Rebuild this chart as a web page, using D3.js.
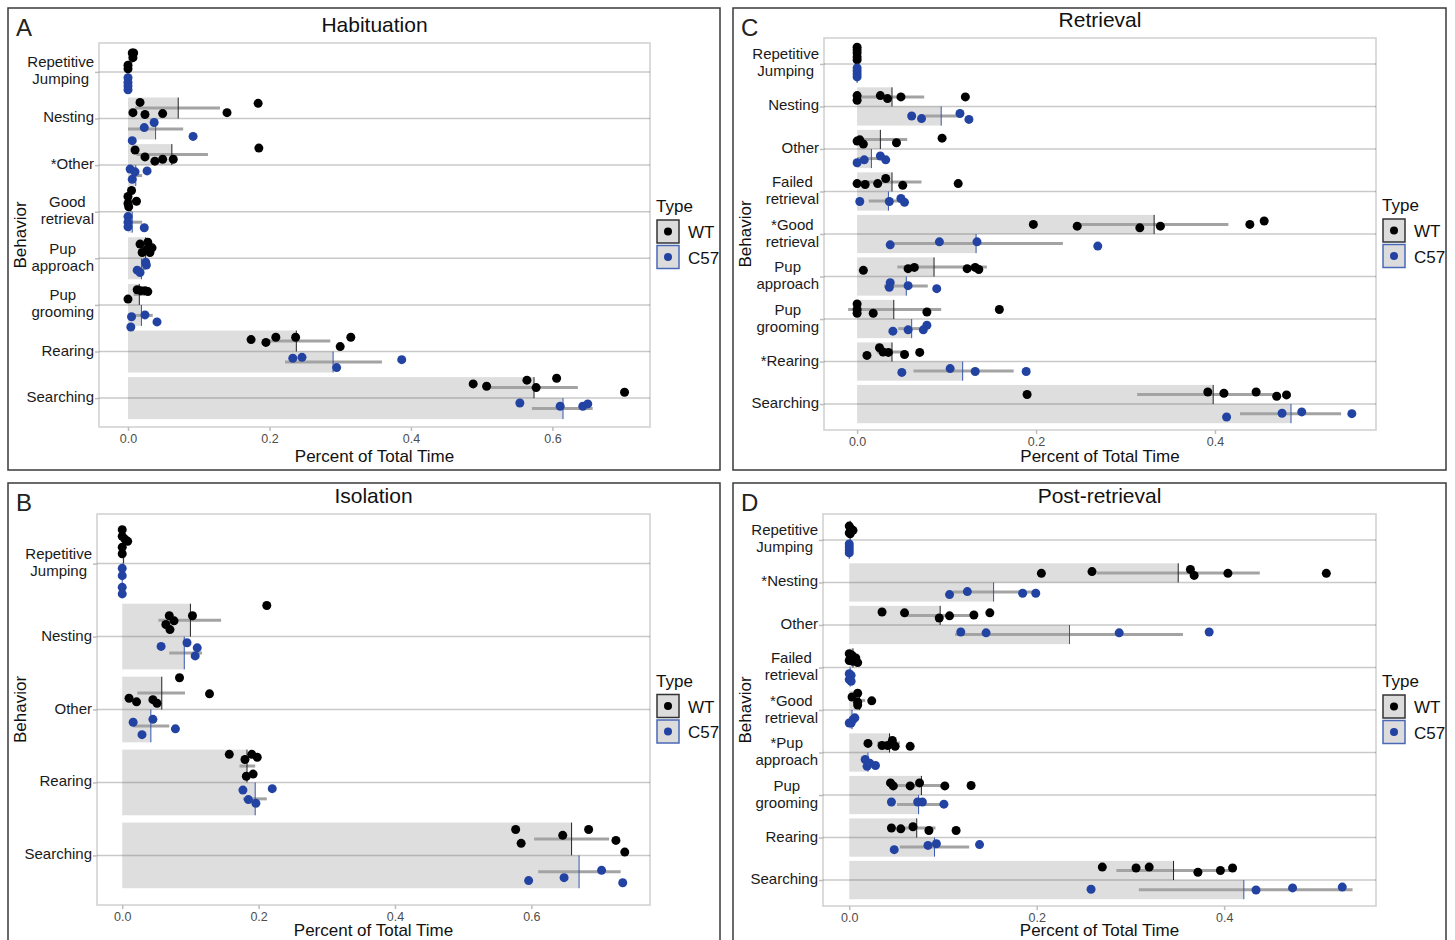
<!DOCTYPE html>
<html>
<head>
<meta charset="utf-8">
<script src="https://cdn.jsdelivr.net/npm/d3@7"></script>
<style>
  body { margin: 0; background: #fff; }
  svg { display: block; }
  text { font-family: "Liberation Sans", Arial, sans-serif; }
</style>
</head>
<body>
<svg id="chart" width="1455" height="940"></svg>
<script>
// ---- Habituation (A) ----
const habCats = ["Repetitive\nJumping", "Nesting", "*Other", "Good\nretrieval", "Pup\napproach", "Pup\ngrooming", "Rearing", "Searching"];
const habWTMean = [0.004, 0.071, 0.062, 0.004, 0.025, 0.016, 0.238, 0.574];
const habC57Mean = [0, 0.039, 0.011, 0.006, 0.019, 0.019, 0.290, 0.615];
const habWTErr = [[0.001, 0.007], [0.010, 0.130], [0.012, 0.113], [0, 0.009], [0.019, 0.031], [0.008, 0.024], [0.200, 0.286], [0.512, 0.636]];
const habC57Err = [[0, 0], [0, 0.078], [0.004, 0.020], [0, 0.020], [0.013, 0.025], [0.007, 0.035], [0.222, 0.359], [0.571, 0.657]];
// points: [value, jitter in category units]
const habWTPts = [
  [[0.006, -0.18], [0.008, -0.18], [0.007, -0.08], [0, 0.08], [0, 0.16]],
  [[0.017, -0.12], [0.007, 0.10], [0.024, 0.14], [0.049, 0.12], [0.140, 0.10], [0.184, -0.10]],
  [[0.010, -0.10], [0.024, 0.05], [0.038, 0.14], [0.049, 0.10], [0.064, 0.10], [0.185, -0.14]],
  [[0.005, -0.23], [0, -0.10], [0, 0.05], [0.012, 0], [0.001, 0.12]],
  [[0.017, -0.08], [0.028, -0.12], [0.020, 0.10], [0.031, 0.10], [0.027, 0.03], [0.034, 0]],
  [[0.013, -0.10], [0.018, -0.08], [0.024, -0.08], [0.028, -0.06], [0, 0.10]],
  [[0.174, -0.03], [0.195, 0.03], [0.209, -0.08], [0.237, -0.08], [0.300, 0.12], [0.315, -0.08]],
  [[0.488, -0.08], [0.507, -0.03], [0.564, -0.16], [0.577, 0], [0.606, -0.20], [0.702, 0.10]]
];
const habC57Pts = [
  [[0, -0.10], [0, 0], [0, 0.08], [0, 0.16]],
  [[0.037, -0.14], [0.023, -0.03], [0.006, 0.25], [0.092, 0.16]],
  [[0.003, -0.14], [0.010, -0.08], [0.027, -0.10], [0.006, 0.08]],
  [[0, -0.12], [0, 0], [0, 0.10], [0.023, 0.12]],
  [[0.025, -0.14], [0.026, -0.08], [0.013, 0.03], [0.017, 0.08]],
  [[0.005, 0.03], [0.024, -0.01], [0.041, 0.14], [0.004, 0.25]],
  [[0.233, -0.08], [0.246, -0.10], [0.295, 0.12], [0.387, -0.05]],
  [[0.554, -0.12], [0.611, -0.05], [0.643, -0.05], [0.650, -0.10]]
];

// ---- Isolation (B) ----
const isoCats = ["Repetitive\nJumping", "Nesting", "Other", "Rearing", "Searching"];
const isoWTMean = [0.002, 0.100, 0.058, 0.183, 0.659];
const isoC57Mean = [0, 0.091, 0.042, 0.195, 0.670];
const isoWTErr = [[0, 0.004], [0.053, 0.145], [0.022, 0.092], [0.172, 0.195], [0.604, 0.714]];
const isoC57Err = [[0, 0], [0.069, 0.117], [0.016, 0.069], [0.177, 0.212], [0.610, 0.731]];
const isoWTPts = [
  [[0, -0.24], [0, -0.15], [0.008, -0.08], [0, 0], [0, 0.09], [0.004, -0.11]],
  [[0.212, -0.20], [0.069, -0.06], [0.103, -0.06], [0.076, 0.01], [0.064, 0.06], [0.070, 0.13]],
  [[0.084, -0.21], [0.128, 0.01], [0.010, 0.07], [0.021, 0.12], [0.045, 0.09], [0.051, 0.14]],
  [[0.157, -0.16], [0.180, -0.09], [0.190, -0.16], [0.198, -0.12], [0.182, 0.14], [0.192, 0.11]],
  [[0.577, -0.13], [0.585, 0.06], [0.646, -0.05], [0.684, -0.13], [0.724, 0.02], [0.737, 0.18]]
];
const isoC57Pts = [
  [[0, -0.16], [0, -0.06], [0, 0.10], [0, 0.19]],
  [[0.057, -0.09], [0.095, -0.14], [0.110, -0.07], [0.107, 0.04]],
  [[0.016, -0.05], [0.045, -0.09], [0.078, 0.04], [0.029, 0.12]],
  [[0.177, -0.12], [0.220, -0.14], [0.185, 0.01], [0.196, 0.06]],
  [[0.596, 0.12], [0.648, 0.08], [0.703, -0.02], [0.734, 0.15]]
];

// ---- Retrieval (C) ----
const retCats = ["Repetitive\nJumping", "Nesting", "Other", "Failed\nretrieval", "*Good\nretrieval", "Pup\napproach", "Pup\ngrooming", "*Rearing", "Searching"];
const retWTMean = [0, 0.039, 0.026, 0.039, 0.332, 0.086, 0.041, 0.039, 0.398];
const retC57Mean = [0, 0.094, 0.016, 0.035, 0.133, 0.055, 0.061, 0.118, 0.485];
const retWTErr = [[0, 0], [0.003, 0.075], [-0.003, 0.056], [0.004, 0.072], [0.249, 0.415], [0.045, 0.145], [-0.010, 0.094], [0.022, 0.051], [0.313, 0.473]];
const retC57Err = [[0, 0], [0.072, 0.115], [0, 0.032], [0.013, 0.048], [0.037, 0.230], [0.030, 0.079], [0.046, 0.078], [0.063, 0.175], [0.428, 0.541]];
const retWTPts = [
  [[0, -0.17], [0, -0.10], [0, -0.03], [0, 0.06], [0, 0.13]],
  [[0, -0.03], [0, 0.08], [0.026, -0.03], [0.034, 0.04], [0.049, 0], [0.121, 0]],
  [[0, 0.04], [0.003, 0.01], [0.007, 0.11], [0.044, 0.08], [0.095, -0.03]],
  [[0, 0.04], [0.009, 0.06], [0.023, 0.04], [0.032, -0.08], [0.051, 0.08], [0.113, 0.04]],
  [[0.197, 0], [0.246, 0.04], [0.316, 0.08], [0.339, 0.04], [0.439, 0], [0.455, -0.08]],
  [[0.007, 0.08], [0.057, 0.04], [0.064, 0.01], [0.123, 0.04], [0.132, 0.01], [0.136, 0.06]],
  [[0, -0.13], [0, 0], [0, 0.09], [0.018, 0.09], [0.078, 0.06], [0.159, 0]],
  [[0.011, 0.08], [0.025, -0.10], [0.029, 0], [0.035, 0.01], [0.053, 0.06], [0.070, 0.01]],
  [[0.190, 0], [0.392, -0.06], [0.410, -0.03], [0.446, -0.06], [0.469, 0.04], [0.480, 0.01]]
];
const retC57Pts = [
  [[0, -0.13], [0, -0.06], [0, 0.01], [0, 0.08]],
  [[0.061, 0], [0.072, 0.06], [0.115, -0.06], [0.125, 0.08]],
  [[0, 0.10], [0.008, 0.03], [0.026, -0.06], [0.032, 0.03]],
  [[0.003, 0.01], [0.036, 0.01], [0.049, -0.06], [0.053, 0.03]],
  [[0.037, 0.03], [0.092, -0.04], [0.134, -0.04], [0.269, 0.06]],
  [[0.037, -0.08], [0.036, 0.03], [0.057, -0.01], [0.089, 0.06]],
  [[0.040, 0.06], [0.057, 0.03], [0.074, 0.03], [0.078, -0.08]],
  [[0.050, 0.03], [0.104, -0.06], [0.132, 0.01], [0.189, 0.01]],
  [[0.413, 0.08], [0.475, -0.01], [0.497, -0.04], [0.553, 0]]
];

// ---- Post-retrieval (D) ----
const postCats = ["Repetitive\nJumping", "*Nesting", "Other", "Failed\nretrieval", "*Good\nretrieval", "*Pup\napproach", "Pup\ngrooming", "Rearing", "Searching"];
const postWTMean = [0.001, 0.351, 0.097, 0.004, 0.011, 0.043, 0.077, 0.072, 0.346];
const postC57Mean = [0, 0.154, 0.235, 0.001, 0.003, 0.020, 0.074, 0.091, 0.421];
const postWTErr = [[0, 0.003], [0.264, 0.438], [0.060, 0.134], [0.001, 0.007], [0.005, 0.017], [0.030, 0.054], [0.051, 0.100], [0.057, 0.092], [0.285, 0.407]];
const postC57Err = [[0, 0], [0.110, 0.198], [0.113, 0.356], [0, 0.002], [0.001, 0.005], [0.016, 0.024], [0.051, 0.097], [0.054, 0.128], [0.309, 0.537]];
const postWTPts = [
  [[0, -0.10], [0.002, -0.03], [0.004, 0], [0, 0.06], [0.001, 0.08]],
  [[0.205, 0.01], [0.259, -0.03], [0.364, -0.08], [0.368, 0.06], [0.404, 0.01], [0.509, 0.01]],
  [[0.035, -0.08], [0.059, -0.06], [0.096, 0.06], [0.107, 0.01], [0.133, -0.01], [0.150, -0.06]],
  [[0, -0.10], [0.003, -0.06], [0.007, 0], [0, 0.06], [0.004, 0.08], [0.009, 0.11]],
  [[0.003, -0.08], [0.009, -0.17], [0.009, 0.04], [0.009, 0.11], [0.024, 0.01]],
  [[0.020, 0.01], [0.035, 0.06], [0.046, -0.06], [0.049, 0.08], [0.041, 0.06], [0.065, 0.08]],
  [[0.044, -0.06], [0.047, 0.01], [0.065, 0.01], [0.075, -0.06], [0.102, 0.01], [0.130, 0]],
  [[0.045, 0], [0.055, 0.02], [0.068, -0.03], [0.085, 0.06], [0.114, 0.06]],
  [[0.270, -0.08], [0.306, -0.06], [0.320, -0.08], [0.372, 0.04], [0.396, 0], [0.409, -0.06]]
];
const postC57Pts = [
  [[0, -0.13], [0, -0.06], [0, 0.01], [0, 0.08]],
  [[0.107, 0.06], [0.126, -0.01], [0.185, 0.03], [0.199, 0.03]],
  [[0.119, -0.06], [0.146, -0.04], [0.288, -0.04], [0.384, -0.06]],
  [[0, -0.08], [0.002, -0.04], [0, 0.06], [0.002, 0.10]],
  [[0, 0.08], [0.004, 0], [0.006, -0.04], [0.002, 0.08]],
  [[0.017, -0.06], [0.019, 0.10], [0.028, 0.08], [0.022, 0.03]],
  [[0.045, -0.06], [0.073, -0.06], [0.078, -0.06], [0.101, -0.01]],
  [[0.048, 0.06], [0.084, -0.04], [0.093, -0.08], [0.139, -0.06]],
  [[0.258, -0.01], [0.434, 0.01], [0.473, -0.04], [0.526, -0.06]]
];

const typeLabels = ["WT", "C57"];
const typeColors = ["#000000", "#2343a3"];
const meanColors = ["#222222", "#3556b0"];
const keyStroke = ["#333333", "#4a68b8"];

// layout of each panel (pixel boxes), data hooked in
const panels = [
  { letter: "A", title: "Habituation", box: [8, 8, 720, 470], plot: [99, 43, 650, 427], xDomain: [-0.041, 0.738], pad: 0.62, xTitleY: 462,
    ticks: [0, 0.2, 0.4, 0.6], cats: habCats, mean: [habWTMean, habC57Mean], err: [habWTErr, habC57Err], pts: [habWTPts, habC57Pts] },
  { letter: "B", title: "Isolation", box: [8, 483, 720, 948], plot: [97, 514, 650, 905], xDomain: [-0.037, 0.774], pad: 0.68, xTitleY: 936,
    ticks: [0, 0.2, 0.4, 0.6], cats: isoCats, mean: [isoWTMean, isoC57Mean], err: [isoWTErr, isoC57Err], pts: [isoWTPts, isoC57Pts] },
  { letter: "C", title: "Retrieval", box: [733, 8, 1446, 470], plot: [824, 38, 1376, 430], xDomain: [-0.037, 0.580], pad: 0.61, xTitleY: 462,
    ticks: [0, 0.2, 0.4], cats: retCats, mean: [retWTMean, retC57Mean], err: [retWTErr, retC57Err], pts: [retWTPts, retC57Pts] },
  { letter: "D", title: "Post-retrieval", box: [733, 483, 1446, 948], plot: [823, 514, 1376, 906], xDomain: [-0.028, 0.562], pad: 0.61, xTitleY: 936,
    ticks: [0, 0.2, 0.4], cats: postCats, mean: [postWTMean, postC57Mean], err: [postWTErr, postC57Err], pts: [postWTPts, postC57Pts] }
];

const svg = d3.select("#chart");
panels.forEach(drawPanel);

function drawPanel(p) {
  const g = svg.append("g");
  const [pl, pt, pr, pb] = p.plot;
  const n = p.cats.length;
  const half = 0.45, off = 0.225;

  g.append("rect")
      .attr("x", p.box[0]).attr("y", p.box[1])
      .attr("width", p.box[2] - p.box[0]).attr("height", p.box[3] - p.box[1])
      .attr("fill", "none").attr("stroke", "#3a3a3a").attr("stroke-width", 1.5);

  const x = d3.scaleLinear().domain(p.xDomain).range([pl, pr]);
  const y = d3.scaleLinear().domain([-p.pad, n - 1 + p.pad]).range([pt, pb]);

  // plot panel border
  g.append("rect")
      .attr("x", pl).attr("y", pt).attr("width", pr - pl).attr("height", pb - pt)
      .attr("fill", "#fff").attr("stroke", "#cfcfcf").attr("stroke-width", 1.5);

  // bars (WT above the tick, C57 below)
  [0, 1].forEach(k => {
    g.append("g").selectAll("rect")
      .data(p.mean[k])
      .join("rect")
        .attr("x", d => x(Math.min(0, d)))
        .attr("width", d => Math.abs(x(d) - x(0)))
        .attr("y", (d, i) => k === 0 ? y(i - half) : y(i))
        .attr("height", y(half) - y(0))
        .attr("fill", "#dedede");
  });

  // y axis ticks + horizontal reference lines
  const yAxis = d3.axisLeft(y).tickValues(d3.range(n)).tickSize(4).tickFormat("");
  const ya = g.append("g").attr("transform", `translate(${pl},0)`).call(yAxis);
  ya.select(".domain").remove();
  ya.selectAll(".tick line").attr("stroke", "#bdbdbd").attr("stroke-width", 1.5);

  g.append("g").selectAll("line")
    .data(p.cats)
    .join("line")
      .attr("x1", pl).attr("x2", pr)
      .attr("y1", (d, i) => y(i)).attr("y2", (d, i) => y(i))
      .attr("stroke", "rgba(0,0,0,0.21)").attr("stroke-width", 1.5);

  // error bars
  [0, 1].forEach(k => {
    const s = k === 0 ? -1 : 1;
    g.append("g").selectAll("line")
      .data(p.err[k])
      .join("line")
        .attr("x1", d => x(d[0])).attr("x2", d => x(d[1]))
        .attr("y1", (d, i) => y(i + s * off)).attr("y2", (d, i) => y(i + s * off))
        .attr("stroke", "#a3a3a3").attr("stroke-width", 3);
  });

  // mean lines
  [0, 1].forEach(k => {
    g.append("g").selectAll("line")
      .data(p.mean[k])
      .join("line")
        .attr("x1", d => x(d)).attr("x2", d => x(d))
        .attr("y1", (d, i) => k === 0 ? y(i - half) : y(i))
        .attr("y2", (d, i) => k === 0 ? y(i) : y(i + half))
        .attr("stroke", meanColors[k]).attr("stroke-width", 1);
  });

  // points
  [0, 1].forEach(k => {
    const s = k === 0 ? -1 : 1;
    const flat = [];
    p.pts[k].forEach((arr, i) => arr.forEach(d => flat.push({ i, v: d[0], j: d[1] })));
    g.append("g").selectAll("circle")
      .data(flat)
      .join("circle")
        .attr("cx", d => x(d.v))
        .attr("cy", d => y(d.i + s * off + d.j))
        .attr("r", 4.5)
        .attr("fill", typeColors[k]);
  });

  // x axis
  const xAxis = d3.axisBottom(x).tickValues(p.ticks).tickFormat(d3.format(".1f")).tickSize(4).tickPadding(3);
  const xa = g.append("g").attr("transform", `translate(0,${pb})`).call(xAxis);
  xa.select(".domain").remove();
  xa.selectAll(".tick line").attr("stroke", "#bdbdbd").attr("stroke-width", 1.5);
  xa.selectAll(".tick text").attr("font-size", 12.5).attr("fill", "#4d4d4d")
      .style("font-family", '"Liberation Sans", Arial, sans-serif');

  // category labels (lines centred on each other, block right-aligned)
  p.cats.forEach((c, i) => {
    const lines = c.split("\n");
    const t = g.append("text").attr("font-size", 15).attr("fill", "#1a1a1a").attr("text-anchor", "middle");
    const spans = lines.map((ln, li) => t.append("tspan")
        .attr("y", y(i) + 4 + (li - (lines.length - 1) / 2) * 17)
        .text(ln));
    const w = d3.max(spans, s => s.node().getComputedTextLength());
    spans.forEach(s => s.attr("x", pl - 5 - w / 2));
  });

  // titles
  const cx = (pl + pr) / 2, cy = (pt + pb) / 2;
  g.append("text").attr("x", cx).attr("y", pt - 11).attr("text-anchor", "middle")
      .attr("font-size", 21).attr("fill", "#111").text(p.title);
  g.append("text").attr("x", p.box[0] + 8).attr("y", p.box[1] + 28)
      .attr("font-size", 24).attr("fill", "#222").text(p.letter);
  g.append("text").attr("x", cx).attr("y", p.xTitleY).attr("text-anchor", "middle")
      .attr("font-size", 17).attr("fill", "#111").text("Percent of Total Time");
  g.append("text").attr("transform", `translate(${p.box[0] + 18},${cy}) rotate(-90)`)
      .attr("text-anchor", "middle").attr("font-size", 17).attr("fill", "#111").text("Behavior");

  // legend
  const lx = pr + 7;
  g.append("text").attr("x", lx - 1).attr("y", cy - 23).attr("font-size", 17).attr("fill", "#111").text("Type");
  typeLabels.forEach((lab, k) => {
    const ky = cy - 15 + k * 25.5;
    g.append("rect").attr("x", lx).attr("y", ky).attr("width", 22).attr("height", 23)
        .attr("fill", "#dcdcdc").attr("stroke", keyStroke[k]).attr("stroke-width", 1.5);
    g.append("circle").attr("cx", lx + 11).attr("cy", ky + 11.5).attr("r", 4).attr("fill", typeColors[k]);
    g.append("text").attr("x", lx + 31).attr("y", ky + 18).attr("font-size", 17).attr("fill", "#111").text(lab);
  });
}
</script>
</body>
</html>
